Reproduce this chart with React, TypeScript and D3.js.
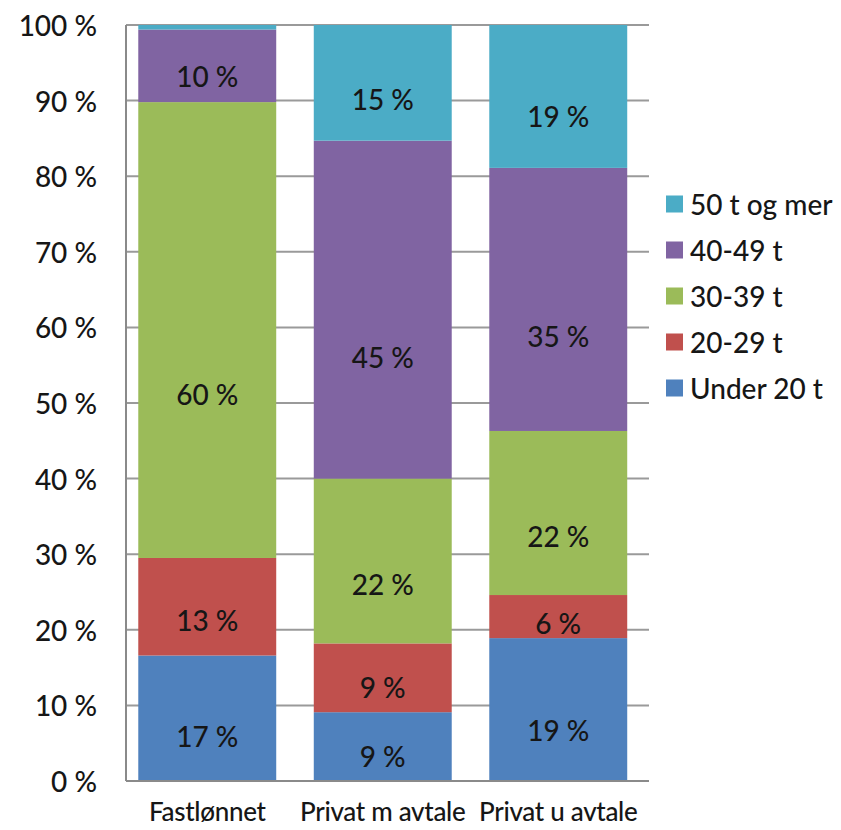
import React from "react";
import * as d3 from "d3";

const categories = ["Fastlønnet", "Privat m avtale", "Privat u avtale"];
const seriesNames = ["Under 20 t", "20-29 t", "30-39 t", "40-49 t", "50 t og mer"];
const under20 = [16.6, 9.1, 18.9];
const t20_29 = [12.9, 9.1, 5.7];
const t30_39 = [60.3, 21.8, 21.7];
const t40_49 = [9.6, 44.7, 34.8];
const t50plus = [0.6, 15.3, 18.9];
const yTicks = [0, 10, 20, 30, 40, 50, 60, 70, 80, 90, 100];
const colors = ["#4F81BD", "#C0504D", "#9BBB59", "#8064A2", "#4BACC6"];

const W = 841;
const H = 830;
const FONT = "Lato, 'Open Sans', sans-serif";
const FS = 28;
const TEXT = "#161616";
// data labels sit a little below the middle of each segment, as in the original
const LABEL_FRAC = 0.36;

export default function App() {
  const seriesValues = [under20, t20_29, t30_39, t40_49, t50plus];
  const rows = categories.map((c, i) => {
    const r: any = { cat: c };
    seriesNames.forEach((s, k) => (r[s] = seriesValues[k][i]));
    return r;
  });
  const stacked = d3.stack<any>().keys(seriesNames)(rows);

  const x = d3
    .scaleBand<string>()
    .domain(categories)
    .range([119.5, 646])
    .paddingInner(0.214)
    .paddingOuter(0.107);
  const y = d3.scaleLinear().domain([0, 100]).range([781, 25]);

  const axisX = 126;
  const gridRight = 649;

  const legendX = 666;
  const legendTop = 204;
  const legendStep = 46;
  const legendOrder = [...seriesNames].reverse();

  return (
    <svg
      width={W}
      height={H}
      style={{ position: "absolute", left: 0, top: 0, background: "#fff" }}
      fontFamily={FONT}
      fontWeight={500}
    >
      {yTicks.map((t) => (
        <line
          key={"g" + t}
          x1={axisX}
          x2={gridRight}
          y1={y(t)}
          y2={y(t)}
          stroke="#9a9a9a"
          strokeWidth={2}
        />
      ))}
      {yTicks.map((t) => (
        <text
          key={"t" + t}
          x={97}
          y={y(t)}
          textAnchor="end"
          dominantBaseline="central"
          fontSize={FS}
          fill={TEXT}
        >
          {t} %
        </text>
      ))}
      {stacked.map((s, k) => (
        <g key={s.key} fill={colors[k]}>
          {s.map((d, i) => (
            <rect
              key={i}
              x={x(categories[i])}
              width={x.bandwidth()}
              y={y(d[1])}
              height={Math.max(0, y(d[0]) - y(d[1]))}
            />
          ))}
        </g>
      ))}
      {stacked.map((s) =>
        s.map((d, i) => {
          const v = d[1] - d[0];
          if (v < 3) return null;
          return (
            <text
              key={s.key + i}
              x={(x(categories[i]) as number) + x.bandwidth() / 2}
              y={y(d[0] + v * LABEL_FRAC)}
              textAnchor="middle"
              dominantBaseline="central"
              fontSize={FS}
              fill={TEXT}
            >
              {Math.round(v)} %
            </text>
          );
        })
      )}
      <line x1={axisX} x2={axisX} y1={y(100)} y2={y(0)} stroke="#8a8a8a" strokeWidth={2} />
      <line x1={axisX} x2={gridRight} y1={y(0)} y2={y(0)} stroke="#8a8a8a" strokeWidth={2} />
      {categories.map((c) => (
        <text
          key={c}
          x={(x(c) as number) + x.bandwidth() / 2}
          y={821}
          textAnchor="middle"
          fontSize={26}
          letterSpacing={-0.3}
          fill={TEXT}
        >
          {c}
        </text>
      ))}
      {legendOrder.map((name, j) => {
        const k = seriesNames.indexOf(name);
        const cy = legendTop + j * legendStep;
        return (
          <g key={name}>
            <rect x={legendX} y={cy - 8.5} width={17} height={17} fill={colors[k]} />
            <text
              x={legendX + 24}
              y={cy}
              dominantBaseline="central"
              fontSize={FS}
              fill={TEXT}
            >
              {name}
            </text>
          </g>
        );
      })}
    </svg>
  );
}
